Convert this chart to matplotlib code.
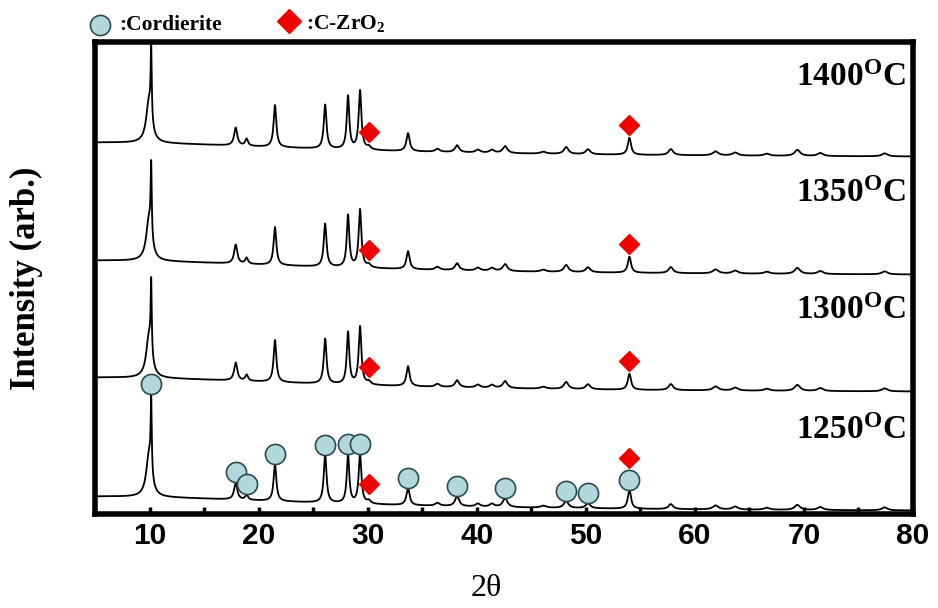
import numpy as np
import matplotlib
matplotlib.use("Agg")
import matplotlib.pyplot as plt

plt.rcParams["mathtext.fontset"] = "custom"
plt.rcParams["mathtext.rm"] = "Liberation Serif:bold"
plt.rcParams["mathtext.it"] = "Liberation Serif:bold"
plt.rcParams["mathtext.bf"] = "Liberation Serif:bold"

# Peak list: position (2theta), FWHM, height per sample
peak_pos = [9.95, 10.15, 17.9, 18.9, 21.5, 26.1, 28.2, 29.3, 30.1, 33.7, 36.4, 38.2, 40.1,
            41.4, 42.6, 46.1, 48.2, 50.2, 54.0, 57.8, 61.9, 63.7, 66.6, 69.4, 71.5, 77.4]
peak_fwhm = [0.6, 0.12, 0.35, 0.3, 0.3, 0.3, 0.28, 0.3, 0.4, 0.35, 0.5, 0.45, 0.5,
             0.5, 0.5, 0.6, 0.5, 0.5, 0.35, 0.5, 0.6, 0.6, 0.6, 0.6, 0.6, 0.6]
h_1400 = [42, 70, 18, 7, 42, 44, 53, 59, 3, 18, 3, 7, 3, 3, 7, 2, 7, 5, 17, 6, 4, 3, 2, 6, 3, 3]
h_1350 = [42, 72, 19, 6, 38, 43, 52, 58, 3, 18, 3, 7, 3, 3, 7, 2, 7, 5, 16, 6, 4, 3, 2, 6, 3, 3]
h_1300 = [42, 72, 18, 6, 42, 45, 52, 58, 3, 20, 3, 7, 3, 3, 7, 2, 7, 5, 16, 6, 4, 3, 2, 6, 3, 3]
h_1250 = [42, 74, 17, 5, 37, 48, 48, 49, 3, 17, 3, 10, 3, 3, 9, 2, 7, 5, 19, 5, 4, 3, 2, 5, 3, 3]

# low-angle background hump (center, half-width, height) and stacking offsets
bg_center, bg_halfwidth, bg_height = 5.0, 25.0, 15.5
samples = ["1250", "1300", "1350", "1400"]
heights = [h_1250, h_1300, h_1350, h_1400]
offsets = [2, 121, 238, 356]

cordierite_pos = [10.15, 17.9, 18.9, 21.5, 26.1, 28.2, 29.3, 33.7, 38.2, 42.6, 48.2, 50.2, 54.0]
zro2_pos = [30.1, 54.0]

two_theta = np.arange(5.0, 80.0, 0.01)


def pattern(h, off):
    y = np.full_like(two_theta, float(off))
    y += bg_height / (1 + ((two_theta - bg_center) / bg_halfwidth) ** 2)
    for p, w, a in zip(peak_pos, peak_fwhm, h):
        y += a / (1 + ((two_theta - p) / (w / 2)) ** 2)
    return y


def top_at(y, p):
    m = np.abs(two_theta - p) <= 0.15
    return y[m].max()


fig = plt.figure(figsize=(9.38, 6.08), dpi=100)
ax = fig.add_axes([0.1013, 0.1546, 0.8720, 0.7763])

circ_kw = dict(marker="o", markersize=14.5, markerfacecolor="#b3d8dc",
               markeredgecolor="#2b4a50", markeredgewidth=1.2, linestyle="none", zorder=4)
dia_kw = dict(marker="D", markersize=10.5, markerfacecolor="#f20000",
              markeredgecolor="#f20000", linestyle="none", zorder=4)

for name, h, off in zip(samples, heights, offsets):
    y = pattern(h, off)
    ax.plot(two_theta, y, color="black", lw=1.3, zorder=2)
    if name == "1250":
        for p in cordierite_pos:
            ax.plot(p, top_at(y, p) + 10, **circ_kw)
        ax.plot(30.1, top_at(y, 30.1) + 15, **dia_kw)
        ax.plot(54.0, top_at(y, 54.0) + 32, **dia_kw)
    else:
        for p in zro2_pos:
            ax.plot(p, top_at(y, p) + 13, **dia_kw)

label_y = {"1400": 437, "1350": 321, "1300": 204, "1250": 84}
for name in samples:
    ax.text(79.3, label_y[name], name + r"$^{\mathrm{O}}$C", ha="right", va="center",
            fontsize=24, fontweight="bold", family="Liberation Serif")

ax.set_xlim(5, 80)
ax.set_ylim(0, 472)
ax.set_yticks([])
ax.set_xticks([10, 20, 30, 40, 50, 60, 70, 80])
ax.set_xticks([15, 25, 35, 45, 55, 65, 75], minor=True)
ax.tick_params(axis="x", which="both", direction="in", length=5, width=2.5, pad=6)
for lab in ax.get_xticklabels():
    lab.set_fontfamily("Liberation Sans")
    lab.set_fontweight("bold")
    lab.set_fontsize(21.5)
for s in ax.spines.values():
    s.set_linewidth(4)

ax.set_ylabel("Intensity (arb.)", fontsize=25, fontweight="bold", family="Liberation Serif")
ax.yaxis.set_label_coords(-0.064, 0.5)
fig.text(486 / 938, 1 - 588 / 608, "2θ", ha="center", va="center", fontsize=23,
         family="Liberation Serif")

# legend above the frame
ax.plot(5.43, 489, clip_on=False, **circ_kw)
ax.text(7.2, 489, ":Cordierite", ha="left", va="center", fontsize=15.5,
        fontweight="bold", family="Liberation Serif", clip_on=False)
leg_dia = dict(dia_kw)
leg_dia["markersize"] = 12.5
ax.plot(22.8, 493, clip_on=False, **leg_dia)
ax.text(24.3, 491, r":C-ZrO$_2$", ha="left", va="center", fontsize=15.5,
        fontweight="bold", family="Liberation Serif", clip_on=False)

fig.savefig("out.png", dpi=100)
